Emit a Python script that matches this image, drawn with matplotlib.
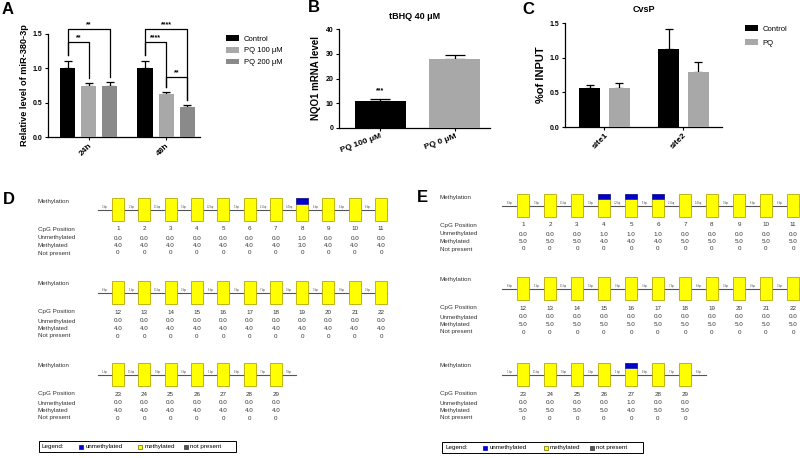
import numpy as np
import matplotlib
matplotlib.use('Agg')
import matplotlib.pyplot as plt
from matplotlib.patches import Rectangle

plt.rcParams['font.family'] = ['Liberation Sans', 'DejaVu Sans']

# ---- data: panel A ----
groups_A = ['24h', '48h']
series_A = ['Control', 'PQ 100 μM', 'PQ 200 μM']
vals_A = [[1.00, 1.00], [0.74, 0.63], [0.75, 0.43]]
errs_A = [[0.11, 0.11], [0.04, 0.02], [0.05, 0.03]]
# (group, bar i, bar j, bracket height, label)
sig_A = [(0, 0, 1, 1.38, '**'), (0, 0, 2, 1.57, '**'),
         (1, 0, 1, 1.38, '****'), (1, 0, 2, 1.57, '****'),
         (1, 1, 2, 0.87, '**')]

# ---- data: panel B ----
cats_B = ['PQ 100 μM', 'PQ 0 μM']
vals_B = [10.8, 28.0]
errs_B = [1.0, 1.5]
sig_B = ['***', '']

# ---- data: panel C ----
cats_C = ['site1', 'site2']
series_C = ['Control', 'PQ']
vals_C = [[0.56, 1.12], [0.56, 0.80]]
errs_C = [[0.05, 0.30], [0.08, 0.14]]

# ---- data: panels D / E (bisulfite methylation) ----
D_unmeth = [0, 0, 0, 0, 0, 0, 0, 1, 0, 0, 0,
            0, 0, 0, 0, 0, 0, 0, 0, 0, 0, 0,
            0, 0, 0, 0, 0, 0, 0]
D_meth = [4, 4, 4, 4, 4, 4, 4, 3, 4, 4, 4,
          4, 4, 4, 4, 4, 4, 4, 4, 4, 4, 4,
          4, 4, 4, 4, 4, 4, 4]
D_notp = [0] * 29
D_gaps = [3, 2, 11, 3, 22, 5, 21, 14, 6, 6, 6,
          8, 1, 11, 3, 6, 3, 7, 0, 3, 0, 3,
          1, 11, 0, 3, 1, 8, 7]
D_tail = 0

E_unmeth = [0, 0, 0, 1, 1, 1, 0, 0, 0, 0, 0,
            0, 0, 0, 0, 0, 0, 0, 0, 0, 0, 0,
            0, 0, 0, 0, 1, 0, 0]
E_meth = [5, 5, 5, 4, 4, 4, 5, 5, 5, 5, 5,
          5, 5, 5, 5, 5, 5, 5, 5, 5, 5, 5,
          5, 5, 5, 5, 4, 5, 5]
E_notp = [0] * 29
E_gaps = [8, 3, 11, 3, 22, 5, 21, 14, 0, 6, 6,
          8, 1, 11, 3, 3, 3, 7, 8, 3, 0, 3,
          1, 11, 0, 3, 1, 8, 7]
E_tail = 8

W, H = 800, 458
fig = plt.figure(figsize=(W / 100, H / 100), dpi=100)


def rect(l, t, r, b):
    return [l / W, 1 - b / H, (r - l) / W, (b - t) / H]


def prism_axes(ax):
    for s in ['top', 'right']:
        ax.spines[s].set_visible(False)
    for s in ['left', 'bottom']:
        ax.spines[s].set_linewidth(0.9)
    ax.tick_params(axis='y', length=2.5, width=0.8, pad=1.5, labelsize=5)
    ax.tick_params(axis='x', length=2, width=0.8, pad=1.5, labelsize=6)
    for lab in ax.get_yticklabels() + ax.get_xticklabels():
        lab.set_fontweight('bold')


# ---------------- panel A ----------------
axA = fig.add_axes(rect(48, 34, 200, 137))
colA = ['#000000', '#a8a8a8', '#8a8a8a']
xA = np.arange(len(groups_A))
offA = 0.273
wA = 0.195
for k in range(len(series_A)):
    xs = xA + (k - 1) * offA
    axA.bar(xs, vals_A[k], wA, color=colA[k], label=series_A[k], zorder=3)
    axA.errorbar(xs, vals_A[k], yerr=[np.zeros(2), errs_A[k]], fmt='none',
                 ecolor='black', elinewidth=0.9, capsize=3, capthick=0.9, zorder=2)
axA.set_xlim(-0.53, 1.44)
axA.set_ylim(0, 1.5)
axA.set_yticks([0, 0.5, 1.0, 1.5])
axA.set_yticklabels(['0.0', '0.5', '1.0', '1.5'])
axA.set_xticks(xA)
axA.set_xticklabels(groups_A, rotation=45, ha='right', rotation_mode='anchor')
axA.set_ylabel('Relative level of miR-380-3p', fontsize=6.6, fontweight='bold', labelpad=3)
prism_axes(axA)
for g, i, j, h, lab in sig_A:
    x1 = g + (i - 1) * offA
    x2 = g + (j - 1) * offA
    b1 = vals_A[i][g] + errs_A[i][g] + 0.08
    b2 = vals_A[j][g] + errs_A[j][g] + 0.08
    axA.plot([x1, x1, x2, x2], [b1, h, h, b2], color='black', lw=0.9, clip_on=False)
    axA.text((x1 + x2) / 2, h + 0.01, lab, ha='center', va='bottom',
             fontsize=5, fontweight='bold')
axA.legend(loc='upper left', bbox_to_anchor=(226 / W, 1 - 35 / H),
           bbox_transform=fig.transFigure, frameon=False, fontsize=5.5,
           handlelength=1.7, handleheight=0.8, handletextpad=0.6,
           labelspacing=0.55, borderpad=0, borderaxespad=0)

# ---------------- panel B ----------------
axB = fig.add_axes(rect(339, 29, 490, 128))
colB = ['#000000', '#a8a8a8']
xB = np.arange(len(cats_B))
axB.bar(xB, vals_B, 0.68, color=colB, zorder=3)
axB.errorbar(xB, vals_B, yerr=[np.zeros(2), errs_B], fmt='none', ecolor='black',
             elinewidth=0.9, capsize=7, capthick=0.9, zorder=2)
for x, v, e, s in zip(xB, vals_B, errs_B, sig_B):
    if s:
        axB.text(x, v + e + 2, s, ha='center', va='bottom', fontsize=5, fontweight='bold')
axB.set_xlim(-0.55, 1.47)
axB.set_ylim(0, 40)
axB.set_yticks([0, 10, 20, 30, 40])
axB.set_xticks(xB)
axB.set_xticklabels(cats_B, rotation=20, ha='right', rotation_mode='anchor')
axB.set_ylabel('NQO1 mRNA level', fontsize=7, fontweight='bold', labelpad=3)
axB.set_title('tBHQ 40 μM', fontsize=6.5, fontweight='bold', pad=7)
prism_axes(axB)

# ---------------- panel C ----------------
axC = fig.add_axes(rect(565, 23, 722, 127))
colC = ['#000000', '#a8a8a8']
xC = np.arange(len(cats_C))
offC = 0.187
wC = 0.266
for k in range(len(series_C)):
    xs = xC + (k - 0.5) * 2 * offC
    axC.bar(xs, vals_C[k], wC, color=colC[k], label=series_C[k], zorder=3)
    axC.errorbar(xs, vals_C[k], yerr=[np.zeros(2), errs_C[k]], fmt='none',
                 ecolor='black', elinewidth=0.9, capsize=3, capthick=0.9, zorder=2)
axC.set_xlim(-0.5, 1.49)
axC.set_ylim(0, 1.5)
axC.set_yticks([0, 0.5, 1.0, 1.5])
axC.set_yticklabels(['0.0', '0.5', '1.0', '1.5'])
axC.set_xticks(xC)
axC.set_xticklabels(cats_C, rotation=45, ha='right', rotation_mode='anchor')
axC.set_ylabel('%of INPUT', fontsize=8, fontweight='bold', labelpad=3)
axC.set_title('CvsP', fontsize=6.5, fontweight='bold', pad=8)
prism_axes(axC)
axC.legend(loc='upper left', bbox_to_anchor=(745 / W, 1 - 25 / H),
           bbox_transform=fig.transFigure, frameon=False, fontsize=5.5,
           handlelength=1.7, handleheight=0.8, handletextpad=0.6,
           labelspacing=0.9, borderpad=0, borderaxespad=0)

# ---------------- panels D / E (pixel overlay) ----------------
ov = fig.add_axes([0, 0, 1, 1], zorder=-1)
ov.set_xlim(0, W)
ov.set_ylim(H, 0)
ov.axis('off')

fs = 4.5
bw, bh = 12, 23
row_off = {'CpG Position': 19, 'Unmethylated': 28, 'Methylated': 35.5, 'Not present': 43}


def draw_methyl(x_lab, x0, pitch, line_ys, unmeth, meth, notp, gaps, tail, legend_box):
    n = len(meth)
    gap_w = pitch - bw
    tc = '#333333'
    for r, ly in enumerate(line_ys):
        idx = list(range(r * 11, min((r + 1) * 11, n)))
        last_row = r == len(line_ys) - 1
        x_end = x0 + (len(idx) - 1) * pitch + bw + (gap_w if last_row else 0)
        ov.plot([x0 - gap_w, x_end], [ly, ly], color='#555555', lw=0.8, zorder=1)
        ov.text(x_lab, ly - 9, 'Methylation', fontsize=fs, va='center', color=tc)
        for name, dy in row_off.items():
            ov.text(x_lab, ly + dy, name, fontsize=fs, va='center', color=tc)
        for j, i in enumerate(idx):
            bx = x0 + j * pitch
            tot = unmeth[i] + meth[i] + notp[i]
            fu = unmeth[i] / tot
            ov.add_patch(Rectangle((bx, ly - 12), bw, bh, facecolor='#ffff00',
                                   edgecolor='#b5a800', lw=0.6, zorder=2))
            if fu > 0:
                ov.add_patch(Rectangle((bx, ly - 12), bw, bh * fu, facecolor='#0000cc',
                                       edgecolor='#0000cc', lw=0.4, zorder=3))
            ov.text(bx - gap_w / 2, ly - 1.2, '%d bp' % gaps[i], fontsize=1.8,
                    ha='center', va='bottom', color='#444444')
            cx = bx + bw / 2
            cells = [str(i + 1), '%.1f' % unmeth[i], '%.1f' % meth[i], '%d' % notp[i]]
            for txt, dy in zip(cells, row_off.values()):
                ov.text(cx, ly + dy, txt, fontsize=fs, ha='center', va='center', color=tc)
        if last_row:
            lx = x0 + (len(idx) - 1) * pitch + bw + gap_w / 2
            ov.text(lx, ly - 1.2, '%d bp' % tail, fontsize=1.8, ha='center', va='bottom', color='#444444')
    # legend box
    l, t, rr, b = legend_box
    ov.add_patch(Rectangle((l, t), rr - l, b - t, facecolor='white', edgecolor='black', lw=0.7))
    cy = (t + b) / 2
    ov.text(l + 3, cy, 'Legend:', fontsize=fs, va='center')
    span = rr - l
    items = [(0.205, '#0000cc', '#0000cc', 'unmethylated'),
             (0.505, '#ffff00', '#666600', 'methylated'),
             (0.735, '#555555', '#333333', 'not present')]
    for fx, fc, ec, lab in items:
        sx = l + fx * span
        ov.add_patch(Rectangle((sx, cy - 2), 4, 4, facecolor=fc, edgecolor=ec, lw=0.5))
        ov.text(sx + 6, cy, lab, fontsize=fs, va='center')


draw_methyl(38, 112, 26.3, [210, 293, 375], D_unmeth, D_meth, D_notp, D_gaps, D_tail,
            (39, 441, 236, 452))
draw_methyl(440, 517, 27.0, [206, 289, 375], E_unmeth, E_meth, E_notp, E_gaps, E_tail,
            (442, 442, 643, 453))

# panel letters
for lab, x, y in [('A', 2, 9), ('B', 308, 8), ('C', 522, 10), ('D', 3, 199), ('E', 417, 198)]:
    fig.text(x / W, 1 - y / H, lab, fontsize=12, fontweight='bold', va='center', ha='left')

fig.savefig('out.png', dpi=100)
